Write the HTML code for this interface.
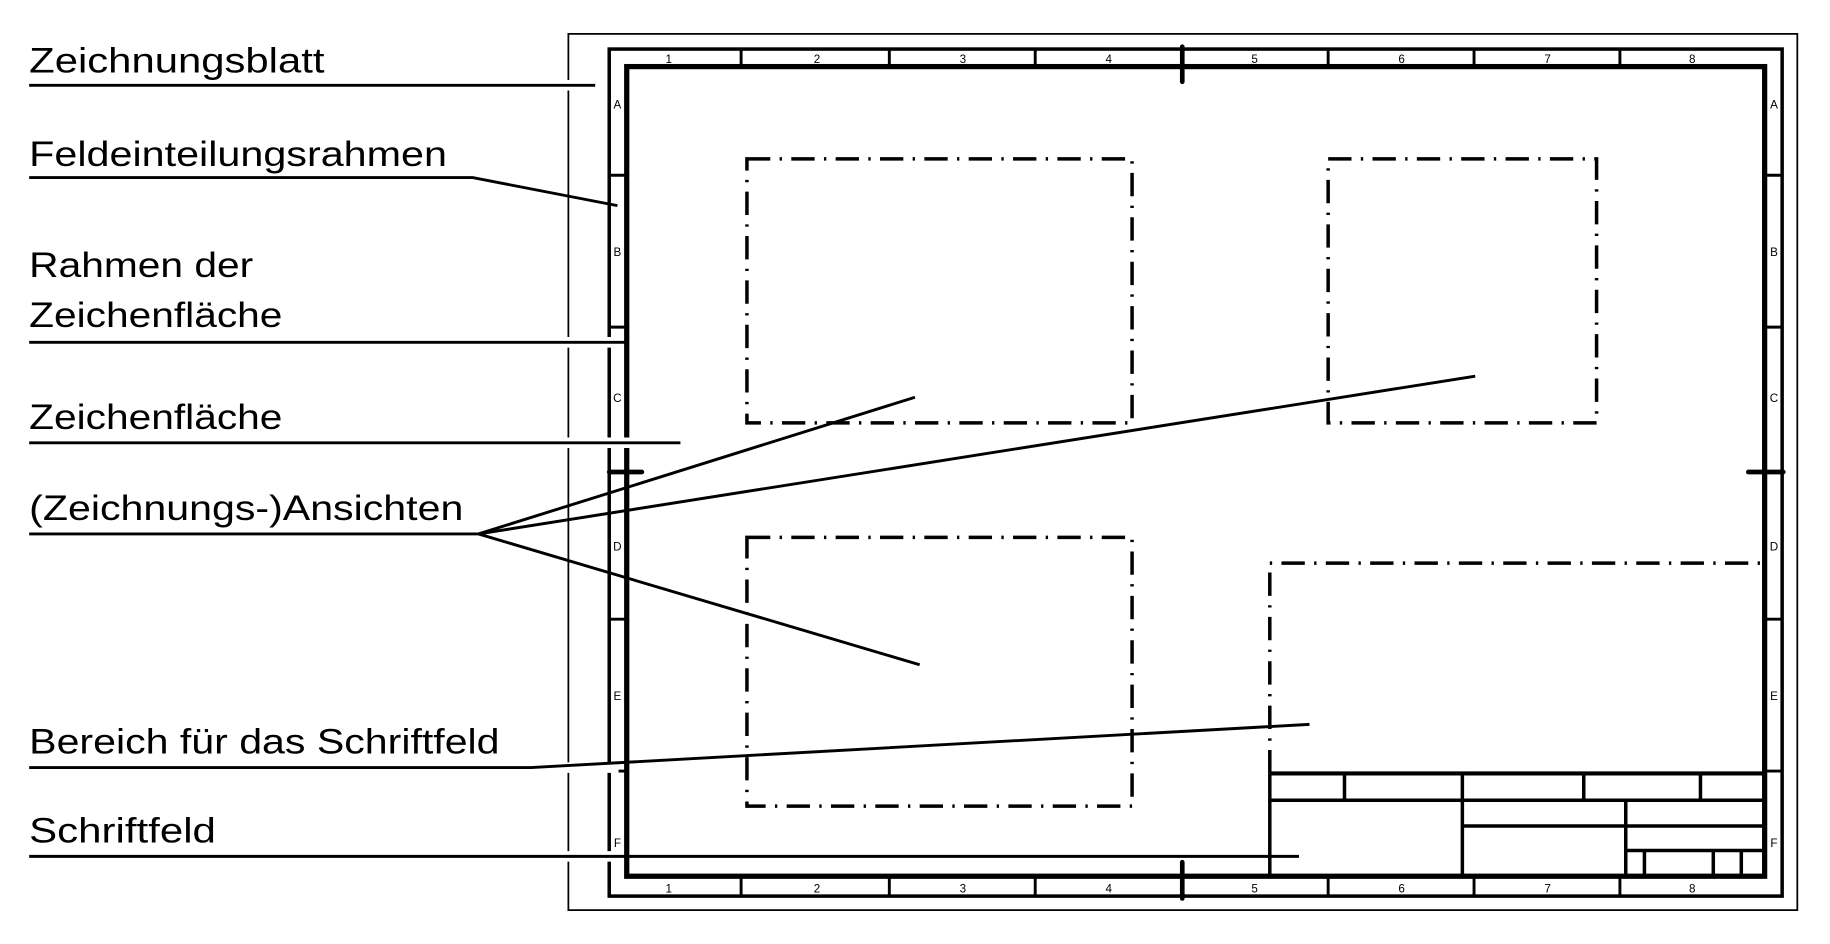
<!DOCTYPE html>
<html><head><meta charset="utf-8"><style>
html,body{margin:0;padding:0;background:#fff;}
svg{display:block;}
text{font-family:"Liberation Sans",sans-serif;fill:#000;}
</style></head><body>
<svg width="1830" height="944" viewBox="0 0 1568 808" preserveAspectRatio="none" xmlns="http://www.w3.org/2000/svg">
<rect x="0" y="0" width="1568" height="808" fill="#fff"/>
<!-- sheet -->
<rect x="487" y="29" width="1053" height="750" fill="none" stroke="#000" stroke-width="1.5"/>
<!-- field frame -->
<rect x="522" y="42" width="1005" height="725" fill="none" stroke="#000" stroke-width="3"/>
<!-- drawing frame -->
<rect x="537" y="57" width="975" height="693" fill="none" stroke="#000" stroke-width="4.5"/>
<g stroke="#000" stroke-width="2.5">
<line x1="635" y1="42" x2="635" y2="57"/><line x1="762" y1="42" x2="762" y2="57"/><line x1="887" y1="42" x2="887" y2="57"/>
<line x1="1138" y1="42" x2="1138" y2="57"/><line x1="1263" y1="42" x2="1263" y2="57"/><line x1="1388" y1="42" x2="1388" y2="57"/>
<line x1="635" y1="750" x2="635" y2="767"/><line x1="762" y1="750" x2="762" y2="767"/><line x1="887" y1="750" x2="887" y2="767"/>
<line x1="1138" y1="750" x2="1138" y2="767"/><line x1="1263" y1="750" x2="1263" y2="767"/><line x1="1388" y1="750" x2="1388" y2="767"/>
<line x1="522" y1="150" x2="537" y2="150"/><line x1="522" y1="280" x2="537" y2="280"/><line x1="522" y1="530" x2="537" y2="530"/><line x1="522" y1="660" x2="537" y2="660"/>
<line x1="1512" y1="150" x2="1527" y2="150"/><line x1="1512" y1="280" x2="1527" y2="280"/><line x1="1512" y1="530" x2="1527" y2="530"/><line x1="1512" y1="660" x2="1527" y2="660"/>
</g>
<g stroke="#000" stroke-width="4" stroke-linecap="round">
<line x1="1013" y1="40" x2="1013" y2="70"/><line x1="1013" y1="738" x2="1013" y2="769"/>
<line x1="522" y1="404" x2="550" y2="404"/><line x1="1498" y1="404" x2="1528" y2="404"/>
</g>
<g font-size="10" text-anchor="middle">
<text x="573" y="54">1</text><text x="700" y="54">2</text><text x="825" y="54">3</text><text x="950" y="54">4</text>
<text x="1075" y="54">5</text><text x="1201" y="54">6</text><text x="1326" y="54">7</text><text x="1450" y="54">8</text>
<text x="573" y="764">1</text><text x="700" y="764">2</text><text x="825" y="764">3</text><text x="950" y="764">4</text>
<text x="1075" y="764">5</text><text x="1201" y="764">6</text><text x="1326" y="764">7</text><text x="1450" y="764">8</text>
<text x="529" y="93">A</text><text x="529" y="219">B</text><text x="529" y="344">C</text><text x="529" y="471">D</text><text x="529" y="599">E</text><text x="529" y="725">F</text>
<text x="1520" y="93">A</text><text x="1520" y="219">B</text><text x="1520" y="344">C</text><text x="1520" y="471">D</text><text x="1520" y="599">E</text><text x="1520" y="725">F</text>
</g>
<!-- views -->
<g fill="none" stroke="#000" stroke-width="3" stroke-dasharray="20 8 2 8">
<rect x="640" y="136" width="330" height="226"/>
<rect x="1138" y="136" width="230" height="226"/>
<rect x="640" y="460" width="330" height="230"/>
<polyline points="1088,662 1088,482 1512,482"/>
</g>
<!-- title block -->
<g stroke="#000" stroke-width="3" fill="none">
<line x1="1088" y1="662" x2="1512" y2="662" stroke-width="3.5"/>
<line x1="1088" y1="662" x2="1088" y2="750"/>
<line x1="1088" y1="685" x2="1512" y2="685"/>
<line x1="1253" y1="707" x2="1512" y2="707"/>
<line x1="1393" y1="728" x2="1512" y2="728"/>
<line x1="1152" y1="662" x2="1152" y2="685"/><line x1="1357" y1="662" x2="1357" y2="685"/><line x1="1457" y1="662" x2="1457" y2="685"/>
<line x1="1253" y1="662" x2="1253" y2="750"/><line x1="1393" y1="685" x2="1393" y2="750"/>
<line x1="1409" y1="728" x2="1409" y2="750"/><line x1="1468" y1="728" x2="1468" y2="750"/><line x1="1492" y1="728" x2="1492" y2="750"/>
</g>
<!-- leader lines halo -->
<g stroke="#fff" stroke-width="9">
<line x1="470" y1="73" x2="510" y2="73"/><line x1="470" y1="152" x2="405" y2="152"/>
<line x1="470" y1="293" x2="533" y2="293"/><line x1="470" y1="379" x2="583" y2="379"/>
<line x1="470" y1="657" x2="530" y2="657"/><line x1="470" y1="733" x2="530" y2="733"/>
</g>
<g stroke="#000" stroke-width="2.5" fill="none">
<line x1="25" y1="73" x2="510" y2="73"/>
<polyline points="25,152 405,152 529,176"/>
<line x1="25" y1="293" x2="537" y2="293"/>
<line x1="25" y1="379" x2="583" y2="379"/>
<line x1="25" y1="457" x2="410" y2="457"/>
<line x1="410" y1="457" x2="784" y2="340"/>
<line x1="410" y1="457" x2="1264" y2="322"/>
<line x1="410" y1="457" x2="788" y2="569"/>
<polyline points="25,657 455,657 1122,620"/>
<line x1="25" y1="733" x2="1113" y2="733"/>
</g>
<g font-size="30">
<text x="25" y="62" textLength="253" lengthAdjust="spacingAndGlyphs">Zeichnungsblatt</text>
<text x="25" y="142" textLength="358" lengthAdjust="spacingAndGlyphs">Feldeinteilungsrahmen</text>
<text x="25" y="237" textLength="192" lengthAdjust="spacingAndGlyphs">Rahmen der</text>
<text x="25" y="280" textLength="217" lengthAdjust="spacingAndGlyphs">Zeichenfläche</text>
<text x="25" y="367" textLength="217" lengthAdjust="spacingAndGlyphs">Zeichenfläche</text>
<text x="25" y="445" textLength="372" lengthAdjust="spacingAndGlyphs">(Zeichnungs-)Ansichten</text>
<text x="25" y="645" textLength="403" lengthAdjust="spacingAndGlyphs">Bereich für das Schriftfeld</text>
<text x="25" y="721" textLength="160" lengthAdjust="spacingAndGlyphs">Schriftfeld</text>
</g>
</svg>
</body></html>
